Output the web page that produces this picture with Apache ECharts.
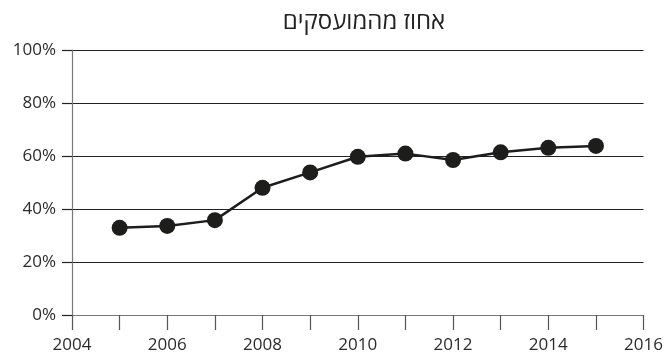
<!DOCTYPE html>
<html>
<head>
<meta charset="utf-8">
<script src="https://cdn.jsdelivr.net/npm/echarts@6/dist/echarts.min.js"></script>
<style>
  html, body { margin: 0; padding: 0; background: #fff; }
  #chart { width: 666px; height: 357px; }
</style>
</head>
<body>
<div id="chart"></div>
<script>
// Share of employed persons, by year
const chartTitle = 'אחוז מהמועסקים';
const years = [2005, 2006, 2007, 2008, 2009, 2010, 2011, 2012, 2013, 2014, 2015];
const shares = [32.9, 33.6, 35.8, 48.0, 53.8, 59.7, 60.9, 58.5, 61.4, 63.1, 63.8];
const xTickLabels = [2004, 2006, 2008, 2010, 2012, 2014, 2016];

const labelFont = { fontFamily: '"Open Sans", sans-serif', fontSize: 17, fontWeight: 'normal', color: '#2b2b2b' };

const chart = echarts.init(document.getElementById('chart'), null, { renderer: 'canvas' });
chart.setOption({
  animation: false,
  backgroundColor: '#fff',
  title: {
    text: chartTitle,
    left: 359,
    textAlign: 'center',
    top: 5,
    textStyle: { fontFamily: '"Open Sans", sans-serif', fontSize: 24, fontWeight: 'normal', color: '#222' }
  },
  grid: { left: 72, right: 21, top: 50, bottom: 42, containLabel: false },
  xAxis: {
    type: 'value',
    min: 2004,
    max: 2016,
    interval: 1,
    axisLine: { show: true, lineStyle: { color: '#777', width: 1.2 } },
    axisTick: { show: true, length: 15, lineStyle: { color: '#555', width: 1.2 } },
    splitLine: { show: false },
    axisLabel: Object.assign({
      margin: 22,
      formatter: v => (xTickLabels.includes(v) ? String(v) : '')
    }, labelFont)
  },
  yAxis: {
    type: 'value',
    min: 0,
    max: 100,
    interval: 20,
    axisLine: { show: true, onZero: false, lineStyle: { color: '#777', width: 1.2 } },
    axisTick: { show: true, length: 10, lineStyle: { color: '#222', width: 1.2 } },
    splitLine: { show: true, lineStyle: { color: '#222', width: 1.2 } },
    axisLabel: Object.assign({ margin: 16, formatter: '{value}%' }, labelFont)
  },
  series: [{
    type: 'line',
    data: years.map((y, i) => [y, shares[i]]),
    symbol: 'circle',
    symbolSize: 16,
    lineStyle: { color: '#1d1d1b', width: 2.5 },
    itemStyle: { color: '#1d1d1b' },
    z: 5
  }]
});
</script>
</body>
</html>
